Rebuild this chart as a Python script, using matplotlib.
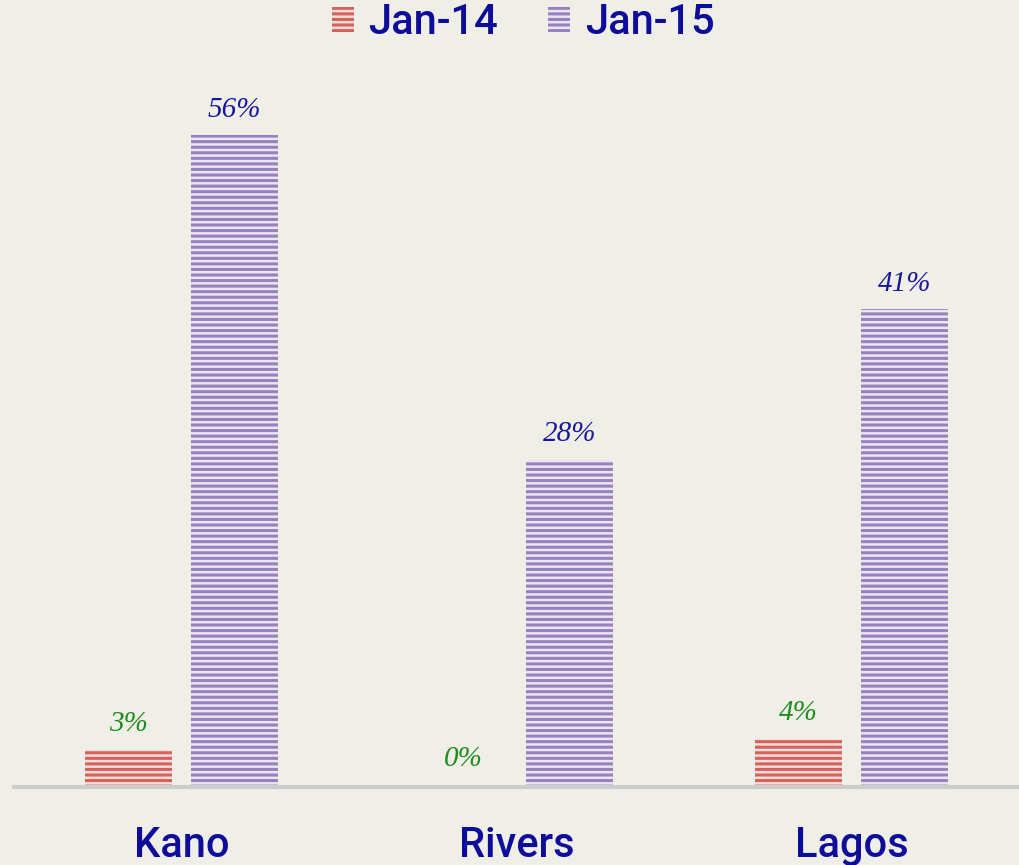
import matplotlib
matplotlib.use("Agg")
import matplotlib.pyplot as plt
import numpy as np
from matplotlib.patches import Patch

categories = ["Kano", "Rivers", "Lagos"]
series_names = ["Jan-14", "Jan-15"]
jan14 = [3, 0, 4]
jan15 = [56, 28, 41]

bg = "#f0efe7"
red_dark, red_light = "#d5635d", "#f5dcd8"
pur_dark, pur_light = "#9782bd", "#ebe6f1"
green = "#1e8c1e"
navy = "#17179a"
blue = "#0d0d9a"

plt.rcParams["hatch.linewidth"] = 2.2

fig = plt.figure(figsize=(10.2, 8.65), dpi=100, facecolor=bg)
ax = fig.add_axes([14/1020, 80/865, 1006/1020, 700/865], facecolor=bg)

x = np.arange(len(categories))
w = 0.26
off = 0.158
b1 = ax.bar(x - off, jan14, w, facecolor=red_light, edgecolor=red_dark, linewidth=0, hatch="---")
b2 = ax.bar(x + off, jan15, w, facecolor=pur_light, edgecolor=pur_dark, linewidth=0, hatch="---")

for xi, v in zip(x - off, jan14):
    ax.text(xi, v + 1.1, f"{v}%", ha="center", va="bottom", color=green,
            fontsize=21, style="italic", family="Liberation Serif")
for xi, v in zip(x + off, jan15):
    ax.text(xi, v + 1.1, f"{v}%", ha="center", va="bottom", color=navy,
            fontsize=21, style="italic", family="Liberation Serif")

ax.set_xlim(-0.5, 2.503)
ax.set_ylim(0, 700/11.6)
ax.axhline(-0.15, color="#cccccc", linewidth=3, zorder=3, clip_on=False)
for s in ax.spines.values():
    s.set_visible(False)
ax.set_yticks([])
ax.set_xticks(x)
ax.set_xticklabels(categories, fontsize=30, color=blue, family="Roboto", fontweight="medium")
ax.tick_params(axis="x", length=0, pad=29)

handles = [Patch(facecolor=red_light, edgecolor=red_dark, linewidth=0, hatch="---"),
           Patch(facecolor=pur_light, edgecolor=pur_dark, linewidth=0, hatch="---")]
leg = fig.legend(handles, series_names, loc="center", bbox_to_anchor=(523/1020, 1 - 23/865),
                 ncol=2, frameon=False, handlelength=0.53, handleheight=0.53,
                 handletextpad=0.35, columnspacing=1.2,
                 prop={"family": "Roboto", "weight": "medium", "size": 30})
for t in leg.get_texts():
    t.set_color(blue)

fig.savefig("out.png", dpi=100, facecolor=bg)
